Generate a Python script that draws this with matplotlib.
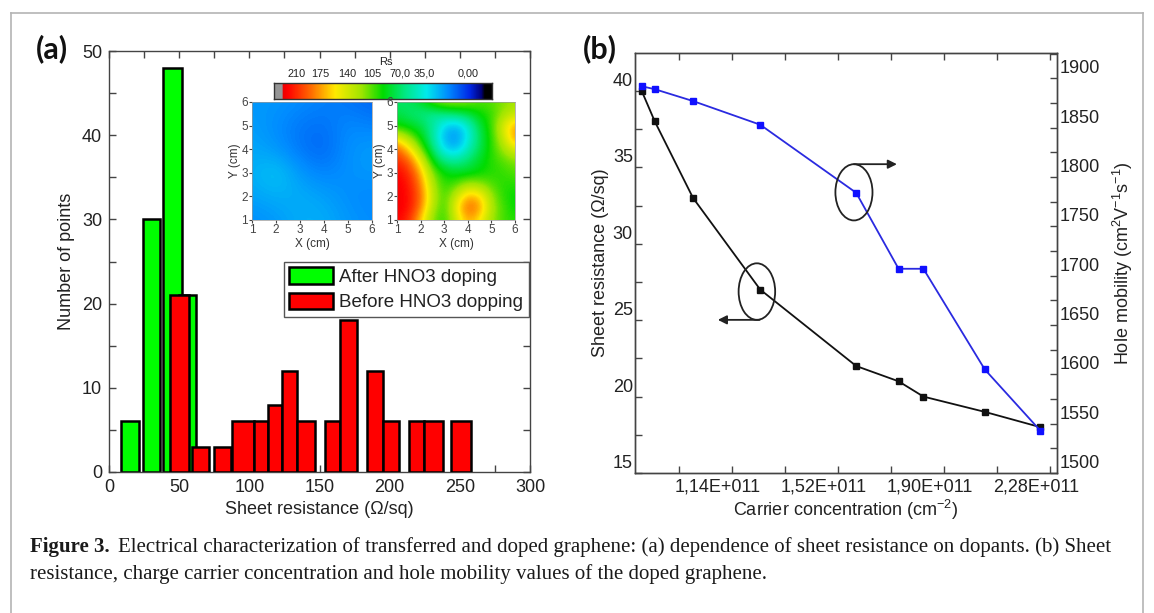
import numpy as np
import matplotlib
matplotlib.use('Agg')
import matplotlib.pyplot as plt
from matplotlib.patches import Ellipse
from matplotlib.colors import LinearSegmentedColormap
from matplotlib.lines import Line2D
from matplotlib.transforms import ScaledTranslation

plt.rcParams['font.family'] = ['Liberation Sans', 'DejaVu Sans']
plt.rcParams['mathtext.fontset'] = 'custom'
plt.rcParams['mathtext.rm'] = 'Liberation Sans'
plt.rcParams['mathtext.it'] = 'Liberation Sans'
plt.rcParams['mathtext.default'] = 'regular'

# ---------------- panel (a) data : histogram bins (left/right edges) and counts
after_lo = [8.6, 24.5, 38.5, 50.0]
after_hi = [21.6, 36.0, 52.0, 62.0]
after_counts = [6, 30, 48, 21]
before_lo = [43.3, 59.0, 74.5, 88.0, 103.0, 113.5, 123.0, 134.0, 154.0, 164.5, 183.6, 195.0, 213.8, 224.5, 244.0]
before_hi = [56.7, 71.6, 87.0, 103.0, 113.5, 123.0, 134.0, 146.5, 164.5, 177.0, 195.0, 207.0, 224.5, 237.8, 257.8]
before_counts = [21, 3, 3, 6, 6, 8, 12, 6, 6, 18, 12, 6, 6, 6, 6]
legend_labels = ['After HNO3 doping', 'Before HNO3 dopping']

# inset colour scale (Rs) labels and their position along the bar
cbar_values = [210, 175, 140, 105, 70, 35, 0]
cbar_labels = ['210', '175', '140', '105', '70,0', '35,0', '0,00']
cbar_pos = [0.104, 0.211, 0.334, 0.449, 0.579, 0.689, 0.89]

# inset sheet-resistance maps, Rs values (rows y = 1 -> 6, cols x = 1 -> 6)
map_after = np.array([
    [16, 18, 22, 22, 18, 16],
    [20, 22, 22, 20, 16, 15],
    [22, 28, 18, 14, 17, 18],
    [21, 18, 12, 9, 17, 19],
    [19, 16, 12, 11, 16, 14],
    [18, 18, 16, 14, 12, 9],
], dtype=float)
# before doping, 0.5 cm grid (rows y = 1, 1.5, ... 6; cols x = 1, 1.5, ... 6)
map_before = np.array([
    [224, 211, 164, 114, 97, 135, 172, 155, 120, 102, 97],
    [228, 221, 185, 126, 97, 150, 195, 179, 126, 102, 91],
    [228, 221, 192, 135, 99, 135, 172, 164, 120, 97, 91],
    [228, 218, 185, 126, 97, 105, 126, 120, 105, 97, 97],
    [224, 211, 172, 114, 91, 85, 85, 91, 97, 99, 105],
    [211, 195, 150, 91, 63, 57, 70, 85, 97, 105, 114],
    [195, 164, 114, 70, 30, 24, 45, 75, 97, 120, 144],
    [150, 120, 91, 57, 23, 16, 33, 72, 97, 135, 179],
    [91, 85, 78, 57, 30, 23, 38, 78, 99, 144, 172],
    [78, 70, 63, 57, 63, 70, 78, 91, 99, 120, 135],
    [70, 72, 83, 105, 120, 120, 114, 105, 105, 114, 120],
], dtype=float)

# ---------------- panel (b) data
carrier = [0.817, 0.864, 1.001, 1.242, 1.586, 1.738, 1.827, 2.047, 2.246]   # x 1e11 cm^-2
sheet_res = [40, 38, 33, 27, 22, 21, 20, 19, 18]
mobility = [1892, 1889, 1877, 1853, 1784, 1707, 1707, 1605, 1543]
carrier_ticks = [1.14, 1.52, 1.90, 2.28]
carrier_minor = [0.95, 1.33, 1.71, 2.09]

W, H = 1154, 613
fig = plt.figure(figsize=(W / 100, H / 100), dpi=100)


def fx(px):
    return px / W


def fy(py):
    return 1 - py / H


def rect(x0, y0, x1, y1):
    return [fx(x0), fy(y1), fx(x1) - fx(x0), fy(y0) - fy(y1)]


TXT = '#222222'
SP = '#444444'

# ================= panel (a)
axA = fig.add_axes(rect(109, 51, 530, 472))
b_after = axA.bar(after_lo, after_counts, width=np.subtract(after_hi, after_lo), align='edge',
                  color='#00ff00', edgecolor='black', linewidth=1.8, zorder=2)
b_before = axA.bar(before_lo, before_counts, width=np.subtract(before_hi, before_lo), align='edge',
                   color='#ff0000', edgecolor='black', linewidth=1.8, zorder=3)
axA.set_xlim(0, 300)
axA.set_ylim(0, 50)
axA.set_xticks(range(0, 301, 50))
axA.set_xticks(range(25, 300, 50), minor=True)
axA.set_yticks(range(0, 51, 10))
axA.set_yticks(range(5, 50, 10), minor=True)
axA.tick_params(which='both', direction='in', top=True, right=True, length=5, width=1, color=SP,
                labelsize=13, labelcolor=TXT, pad=5)
for s in axA.spines.values():
    s.set_color(SP)
    s.set_linewidth(1.0)
axA.set_xlabel('Sheet resistance (\u03a9/sq)', fontsize=13, color=TXT, labelpad=4)
axA.set_ylabel('Number of points', fontsize=13, color=TXT, labelpad=5)
leg = axA.legend([b_after, b_before], legend_labels, loc='upper right', bbox_to_anchor=(0.997, 0.50),
                 borderaxespad=0, fontsize=13.5, handlelength=2.3, handleheight=1.0, labelspacing=0.35,
                 handletextpad=0.35, borderpad=0.3, fancybox=False, framealpha=1, edgecolor='#555555')
leg.get_frame().set_linewidth(1.0)
for t in leg.get_texts():
    t.set_color(TXT)
fig.text(fx(36), fy(49), '(a)', fontsize=22, fontweight='bold', family='Lato', va='center', ha='left',
         color='#111111')

# colour map of the insets
stops = [(0.000, (150, 150, 150)), (0.035, (150, 150, 150)), (0.037, (235, 0, 0)), (0.06, (255, 0, 0)),
         (0.17, (255, 110, 0)), (0.28, (255, 235, 0)), (0.40, (160, 230, 0)), (0.50, (0, 220, 0)),
         (0.60, (0, 232, 130)), (0.70, (0, 235, 235)), (0.80, (0, 140, 255)), (0.90, (0, 40, 230)),
         (0.955, (0, 0, 120)), (0.97, (0, 0, 0)), (1.0, (0, 0, 0))]
cmap = LinearSegmentedColormap.from_list('rs', [(p, tuple(c / 255 for c in col)) for p, col in stops])

cax = fig.add_axes(rect(274, 83, 492, 99))
cax.imshow(np.linspace(0, 1, 400)[None, :], cmap=cmap, vmin=0, vmax=1, aspect='auto', extent=[0, 1, 0, 1])
cax.set_xticks([])
cax.set_yticks([])
for s in cax.spines.values():
    s.set_color('#333333')
    s.set_linewidth(1.0)
for p, lab in zip(cbar_pos, cbar_labels):
    cax.text(p, 1.25, lab, transform=cax.transAxes, ha='center', va='bottom', fontsize=7.8, color=TXT)
fig.text(fx(386), fy(62), 'Rs', fontsize=8, ha='center', va='center', color=TXT)

vals_sorted = cbar_values[::-1]
pos_sorted = cbar_pos[::-1]


def to_pos(v):
    v = np.asarray(v, dtype=float)
    p = np.interp(v, vals_sorted, pos_sorted)
    lo = v > 210
    p[lo] = cbar_pos[0] - (v[lo] - 210) / 327.0
    return p


for grid, r in [(map_after, rect(252, 102, 372, 220)), (map_before, rect(397, 102, 515, 220))]:
    m = fig.add_axes(r)
    n = grid.shape[0]
    half = 5.0 / (n - 1) / 2
    m.imshow(to_pos(grid), cmap=cmap, vmin=0, vmax=1, origin='lower',
             extent=[1 - half, 6 + half, 1 - half, 6 + half], interpolation='bicubic', aspect='auto')
    m.set_xlim(1, 6)
    m.set_ylim(1, 6)
    m.set_xticks(range(1, 7))
    m.set_yticks(range(1, 7))
    m.tick_params(labelsize=8.5, length=2, pad=1, colors='#444444')
    m.set_xlabel('X (cm)', fontsize=8.5, labelpad=1, color='#333333')
    m.set_ylabel('Y (cm)', fontsize=8.5, labelpad=0, color='#333333')
    for s in m.spines.values():
        s.set_color('#999999')
        s.set_linewidth(0.5)

# ================= panel (b)
axB = fig.add_axes(rect(635, 52.7, 1057, 473))
axR = axB.twinx()
axB.plot(carrier, sheet_res, color='#111111', lw=1.3, marker='s', ms=4.5, zorder=3)
axR.plot(carrier, mobility, color='#2a2ae0', lw=1.3, marker='s', ms=4.5, mfc='#1010ff', mec='#1010ff', zorder=3)
axB.set_xlim(0.793, 2.306)
axB.set_ylim(15, 42.5)
axR.set_ylim(1500, 1926)
axB.set_xticks(carrier_ticks, labels=[('%.2f' % v).replace('.', ',') + 'E+011' for v in carrier_ticks])
axB.set_xticks(carrier_minor, minor=True)
axB.set_yticks(range(15, 41, 5))
axB.set_yticks(np.arange(17.5, 42.5, 5), minor=True)
axR.set_yticks(range(1500, 1901, 50))
axR.set_yticks(range(1525, 1926, 50), minor=True)
axB.tick_params(axis='x', which='both', direction='in', top=True, length=5, width=1, color=SP,
                labelsize=13, labelcolor=TXT, pad=4)
axB.tick_params(axis='y', which='both', direction='in', right=False, length=5, width=1, color=SP,
                labelsize=13, labelcolor=TXT, pad=1.5)
axR.tick_params(axis='y', which='both', direction='in', length=5, width=1, color=SP,
                labelsize=13, labelcolor=TXT, pad=2)
for a in (axB, axR):
    for s in a.spines.values():
        s.set_color(SP)
        s.set_linewidth(1.0)
shx = ScaledTranslation(-14 / 100, 0, fig.dpi_scale_trans)
shy = ScaledTranslation(0, 11.5 / 100, fig.dpi_scale_trans)
for lab in axB.get_xticklabels():
    lab.set_transform(lab.get_transform() + shx)
for lab in axB.get_yticklabels() + axR.get_yticklabels():
    lab.set_transform(lab.get_transform() + shy)
axB.set_xlabel('Carrier concentration (cm$^{-2}$)', fontsize=13, color=TXT, labelpad=2)
axB.set_ylabel('Sheet resistance (\u03a9/sq)', fontsize=13, color=TXT, labelpad=3)
axR.set_ylabel('Hole mobility (cm$^{2}$V$^{-1}$s$^{-1}$)', fontsize=13, color=TXT, labelpad=8)
fig.text(fx(583), fy(49), '(b)', fontsize=22, fontweight='bold', family='Lato', va='center', ha='left',
         color='#111111')

# ellipses and arrows
e1x, e1y, e1w, e1h = carrier[3] - 0.012, sheet_res[3] - 0.13, 0.131, 3.7
axB.add_patch(Ellipse((e1x, e1y), e1w, e1h, fill=False, ec='#222222', lw=1.3, zorder=4))
axB.annotate('', xy=(1.09, e1y - e1h / 2), xytext=(e1x + 0.01, e1y - e1h / 2),
             arrowprops=dict(arrowstyle='-|>', color='#222222', lw=1.3, mutation_scale=13, shrinkA=0, shrinkB=0))
e2x, e2y, e2w, e2h = carrier[4] - 0.008, mobility[4] + 0.5, 0.133, 57
axR.add_patch(Ellipse((e2x, e2y), e2w, e2h, fill=False, ec='#222222', lw=1.3, zorder=4))
axR.annotate('', xy=(1.732, e2y + e2h / 2), xytext=(e2x, e2y + e2h / 2),
             arrowprops=dict(arrowstyle='-|>', color='#222222', lw=1.3, mutation_scale=13, shrinkA=0, shrinkB=0))

# ================= frame and caption
for xs, ys in [((11, 1143), (13, 13)), ((11, 11), (13, 613)), ((1143, 1143), (13, 613))]:
    fig.add_artist(Line2D([fx(xs[0]), fx(xs[1])], [fy(ys[0]), fy(ys[1])], transform=fig.transFigure,
                          color='#b4b4b4', lw=1.2))
cap_font = dict(family='Liberation Serif', fontsize=15, color='#1a1a1a')
t1 = fig.text(fx(30), fy(547), 'Figure 3.', fontweight='bold', va='center', ha='left', **cap_font)
plt.annotate('Electrical characterization of transferred and doped graphene: (a) dependence of sheet '
             'resistance on dopants. (b) Sheet', xy=(1, 0.5), xycoords=t1, xytext=(8, 0),
             textcoords='offset pixels', va='center', ha='left', annotation_clip=False, **cap_font)
fig.text(fx(30), fy(574), 'resistance, charge carrier concentration and hole mobility values of the doped graphene.',
         va='center', ha='left', **cap_font)

fig.savefig('out.png', dpi=100)
